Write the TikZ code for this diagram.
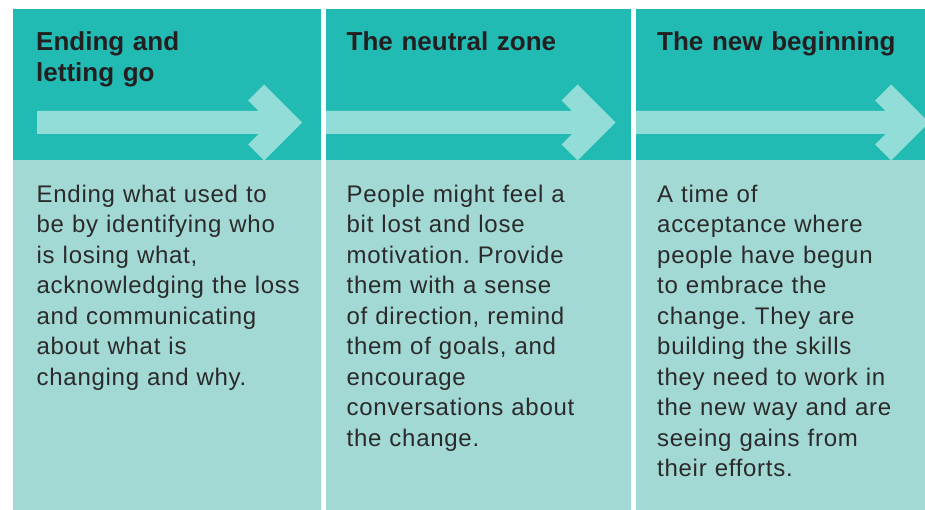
\documentclass[tikz,border=0pt]{standalone}
\usepackage{fontspec}
\setmainfont{Liberation Sans}
\newfontfamily\bodyfont[LetterSpace=3]{Liberation Sans}
\definecolor{hdr}{HTML}{21BBB3}
\definecolor{arw}{HTML}{92DDD8}
\definecolor{bdy}{HTML}{A3D9D5}
\definecolor{ink}{HTML}{231F20}
\definecolor{bodyink}{HTML}{2A2A2A}
\frenchspacing
\tikzset{
  titletext/.style={anchor=base west, inner sep=0pt, text width=290pt, align=left,
    text=ink, font={\bfseries\fontsize{26}{31}\selectfont}},
  bodytext/.style={anchor=base west, inner sep=0pt, text width=290pt, align=left,
    text=bodyink, font={\bodyfont\fontsize{24}{30.5}\selectfont\frenchspacing}},
}
\newcommand\chevarrow[2]{%
  \fill[arw] (#1,111) -- (#2-43.5,111) -- (#2-54,100.5) -- (#2-38,84.5) -- (#2,122.5)
    -- (#2-38,160.5) -- (#2-54,144.5) -- (#2-43.5,134) -- (#1,134) -- cycle;}
\begin{document}
\begin{tikzpicture}[x=1pt,y=-1pt]
\useasboundingbox (0,0) rectangle (925,510);
\clip (0,0) rectangle (925,510);
\fill[white] (0,0) rectangle (925,510);
% headers
\fill[hdr] (13,9) rectangle (320.5,160);
\fill[hdr] (326,9) rectangle (631,160);
\fill[hdr] (636,9) rectangle (925,160);
% arrows
\chevarrow{37}{302}
\chevarrow{326}{615.5}
\chevarrow{636}{929}
% bodies
\fill[bdy] (13,160) rectangle (320.5,510);
\fill[bdy] (326,160) rectangle (631,510);
\fill[bdy] (636,160) rectangle (925,510);
% titles
\node[titletext] (t1) at (36,50.7) {Ending and\\letting go};
\node[titletext] (t2) at (346.5,50.7) {The neutral zone};
\node[titletext] (t3) at (657,50.7) {The new beginning};
% body texts
\node[bodytext] (b1) at (36.5,202.5) {Ending what used to\\be by identifying who\\is losing what,\\acknowledging the loss\\and communicating\\about what is\\changing and why.};
\node[bodytext] (b2) at (346.5,202.5) {People might feel a\\bit lost and lose\\motivation. Provide\\them with a sense\\of direction, remind\\them of goals, and\\encourage\\conversations about\\the change.};
\node[bodytext] (b3) at (657,202.5) {A time of\\acceptance where\\people have begun\\to embrace the\\change. They are\\building the skills\\they need to work in\\the new way and are\\seeing gains from\\their efforts.};
\end{tikzpicture}
\end{document}
